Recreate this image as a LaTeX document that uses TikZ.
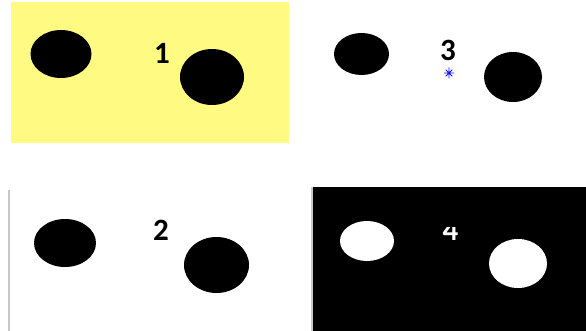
\documentclass[tikz,border=0pt]{standalone}
\usepackage{fontspec}
\setmainfont{Carlito}
\usepackage{xcolor}
\usetikzlibrary{shapes.geometric}
\definecolor{fundoamarelo}{RGB}{255,251,130}
\definecolor{cinzaborda}{RGB}{200,200,200}
\definecolor{azulmarca}{RGB}{20,20,255}

\begin{document}
\begin{tikzpicture}[x=1pt, y=-1pt,
      blob/.style={ellipse, fill=black, inner sep=0pt},
      blobclaro/.style={ellipse, fill=white, inner sep=0pt},
      rotulo/.style={inner sep=0pt, font=\fontsize{31}{31}\selectfont\bfseries}]
    \useasboundingbox (0,0) rectangle (586,331);
    % quadro 1: fundo amarelo
    \fill[fundoamarelo] (11,2) rectangle (289,143);
    \node[blob, minimum width=61, minimum height=48] (E1a) at (61,54) {};
    \node[blob, minimum width=64, minimum height=56] (E1b) at (212,77) {};
    \node[rotulo] (L1) at (162,53) {1};
    % quadro 3: fundo branco com marcador
    \node[blob, minimum width=55, minimum height=42] (E3a) at (361.5,54) {};
    \node[blob, minimum width=58, minimum height=50] (E3b) at (513,77) {};
    \node[rotulo] (L3) at (448,50.5) {3};
    \coordinate (M3) at (449,73);
    \draw[azulmarca, line width=0.9]
      (M3) ++(-5,0) -- ++(10,0)  (M3) ++(0,-5.5) -- ++(0,11)
      (M3) ++(-3.3,-3.3) -- ++(6.6,6.6)  (M3) ++(-3.3,3.3) -- ++(6.6,-6.6);
    % quadro 2: borda cinza a esquerda
    \draw[cinzaborda, line width=1.2] (9,190) -- (9,331);
    \node[blob, minimum width=62, minimum height=48] (E2a) at (65,243) {};
    \node[blob, minimum width=65, minimum height=56] (E2b) at (216.5,265) {};
    \node[rotulo] (L2) at (161,230) {2};
    % quadro 4: imagem invertida
    \fill[black] (312,187) rectangle (586,331);
    \draw[cinzaborda, line width=1.5] (312,187) -- (312,331);
    \node[blobclaro, minimum width=54, minimum height=40] (E4a) at (367,241) {};
    \node[blobclaro, minimum width=58, minimum height=49] (E4b) at (518,263.5) {};
    \begin{scope}
      \clip (430,227) rectangle (470,246);
      \node[rotulo, white] (L4) at (450.5,230) {4};
    \end{scope}
  \end{tikzpicture}
\end{document}
